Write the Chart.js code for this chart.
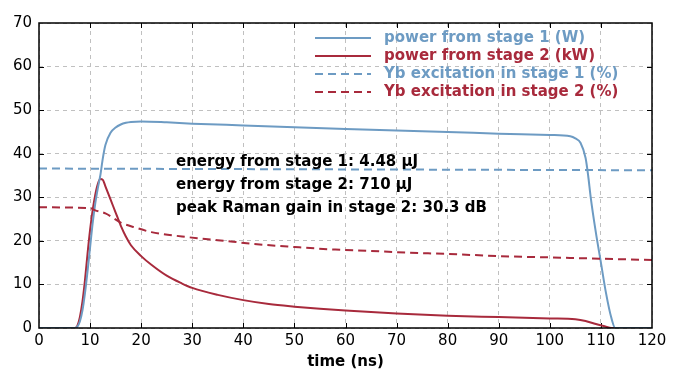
<!DOCTYPE html>
<html>
<head>
<meta charset="utf-8">
<script src="https://cdn.jsdelivr.net/npm/chart.js@4/dist/chart.umd.min.js"></script>
<style>
  html, body { margin: 0; padding: 0; background: #fff; }
  #wrap { width: 700px; height: 375px; }
</style>
</head>
<body>
<div id="wrap"><canvas id="c" width="700" height="375"></canvas></div>
<script>
// time (ns) / value pairs
const P1_T = [0, 7, 7.5, 8, 8.5, 9, 9.5, 10, 10.5, 11, 11.5, 12, 12.5, 13, 14, 15, 16, 17, 18, 20, 25, 30, 40, 50, 60, 70, 80, 90, 100, 104, 105, 106, 107, 107.5, 108, 109, 110, 111, 112, 112.8, 120];
const P1_V = [0, 0, 0.3, 1.5, 4, 8, 13, 18.5, 24, 28.5, 32, 35, 39, 42, 44.8, 46, 46.7, 47.1, 47.3, 47.4, 47.2, 46.9, 46.5, 46.1, 45.7, 45.3, 45.0, 44.6, 44.3, 44, 43.5, 42.5, 39, 35, 30, 22, 15, 8, 2.5, 0, 0];

const P2_T = [0, 7, 7.5, 8, 8.5, 9, 9.5, 10, 10.5, 11, 11.5, 12, 12.5, 13, 14, 15, 16, 17, 18, 20, 22, 25, 28, 30, 35, 40, 45, 50, 55, 60, 70, 80, 90, 100, 105, 107, 109, 111, 112, 120];
const P2_V = [0, 0, 0.5, 2.5, 6, 11, 17, 22.5, 27, 30.5, 33, 34.2, 34, 32.5, 29.5, 26.5, 23.5, 21, 19, 16.5, 14.5, 12, 10.2, 9.2, 7.6, 6.4, 5.5, 4.9, 4.4, 4.0, 3.3, 2.8, 2.5, 2.2, 2.0, 1.6, 0.9, 0.3, 0, 0];

const YB1_T = [0, 120];
const YB1_V = [36.6, 36.2];

const YB2_T = [0, 10, 11, 13, 16, 19, 22, 28, 32, 38, 42, 50, 58, 65, 72, 80, 90, 100, 110, 120];
const YB2_V = [27.7, 27.5, 27, 26.3, 24.2, 23, 22, 21, 20.5, 19.8, 19.3, 18.6, 18, 17.7, 17.3, 17, 16.5, 16.2, 15.9, 15.6];

const LABELS = ['power from stage 1 (W)', 'power from stage 2 (kW)', 'Yb excitation in stage 1 (%)', 'Yb excitation in stage 2 (%)'];
const NOTES = ['energy from stage 1: 4.48 µJ', 'energy from stage 2: 710 µJ', 'peak Raman gain in stage 2: 30.3 dB'];

const BLUE = '#6d9bc3';
const RED = '#a82a3c';
const FONT = '"DejaVu Sans", Verdana, sans-serif';

function pts(t, v) {
  return t.map((x, i) => ({ x: x, y: v[i] }));
}

const frame = {
  id: 'frame',
  beforeDatasetsDraw(chart) {
    const { ctx, chartArea: a, scales } = chart;
    ctx.save();
    ctx.strokeStyle = '#000';
    ctx.lineWidth = 1;
    // small inward ticks like the original
    for (let v = 10; v < 120; v += 10) {
      const x = Math.round(scales.x.getPixelForValue(v)) + 0.5;
      ctx.beginPath();
      ctx.moveTo(x, a.bottom); ctx.lineTo(x, a.bottom - 5);
      ctx.moveTo(x, a.top); ctx.lineTo(x, a.top + 5);
      ctx.stroke();
    }
    for (let v = 10; v < 70; v += 10) {
      const y = Math.round(scales.y.getPixelForValue(v)) + 0.5;
      ctx.beginPath();
      ctx.moveTo(a.left, y); ctx.lineTo(a.left + 5, y);
      ctx.moveTo(a.right, y); ctx.lineTo(a.right - 5, y);
      ctx.stroke();
    }
    ctx.restore();
  },
  afterDraw(chart) {
    const { ctx, chartArea: a } = chart;
    ctx.save();
    ctx.strokeStyle = '#000';
    ctx.lineWidth = 1.5;
    ctx.strokeRect(a.left, a.top, a.right - a.left, a.bottom - a.top);

    // legend, inside top right
    ctx.font = 'bold 15px ' + FONT;
    ctx.textBaseline = 'middle';
    const cols = [BLUE, RED, BLUE, RED];
    const dashes = [[], [], [8, 5], [8, 5]];
    for (let i = 0; i < 4; i++) {
      const y = 38 + i * 18;
      ctx.strokeStyle = cols[i];
      ctx.lineWidth = 2;
      ctx.setLineDash(dashes[i]);
      ctx.beginPath();
      ctx.moveTo(315, y); ctx.lineTo(371, y);
      ctx.stroke();
      ctx.setLineDash([]);
      ctx.fillStyle = cols[i];
      ctx.fillText(LABELS[i], 384, y);
    }

    // notes
    ctx.fillStyle = '#000';
    for (let i = 0; i < NOTES.length; i++) {
      ctx.fillText(NOTES[i], 176, 162 + i * 23);
    }
    ctx.restore();
  }
};

const ds = (label, t, v, color, dash) => ({
  label: label,
  data: pts(t, v),
  borderColor: color,
  backgroundColor: color,
  borderWidth: 2,
  borderDash: dash,
  pointRadius: 0,
  cubicInterpolationMode: 'monotone',
  fill: false
});

new Chart(document.getElementById('c'), {
  type: 'line',
  data: {
    datasets: [
      ds(LABELS[3], YB2_T, YB2_V, RED, [8, 5]),
      ds(LABELS[2], YB1_T, YB1_V, BLUE, [8, 5]),
      ds(LABELS[0], P1_T, P1_V, BLUE, []),
      ds(LABELS[1], P2_T, P2_V, RED, [])
    ]
  },
  options: {
    responsive: false,
    animation: false,
    layout: { padding: { top: 23, right: 48, left: 0, bottom: 0 } },
    plugins: { legend: { display: false }, tooltip: { enabled: false } },
    scales: {
      x: {
        type: 'linear',
        min: 0, max: 120,
        afterFit(s) { s.height = 47; },
        ticks: { stepSize: 10, color: '#000', padding: 4, maxRotation: 0, font: { family: FONT, size: 15 } },
        grid: { color: '#c0c0c0', drawTicks: false },
        border: { display: false, dash: [4, 4] },
        title: { display: true, text: 'time (ns)', color: '#000', padding: { top: 1 }, font: { family: FONT, size: 15, weight: 'bold' } }
      },
      y: {
        min: 0, max: 70,
        afterFit(s) { s.width = 39; },
        ticks: { stepSize: 10, color: '#000', padding: 7, font: { family: FONT, size: 15 } },
        grid: { color: '#c0c0c0', drawTicks: false },
        border: { display: false, dash: [4, 4] }
      }
    }
  },
  plugins: [frame]
});
</script>
</body>
</html>
